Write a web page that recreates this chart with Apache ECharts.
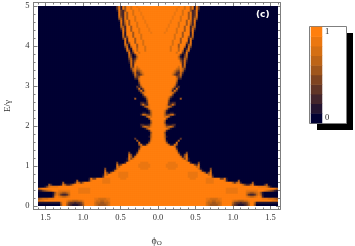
<!DOCTYPE html>
<html><head><meta charset="utf-8">
<style>html,body{margin:0;padding:0;background:#fff}#c{width:355px;height:246px}</style>
<script src="https://cdn.jsdelivr.net/npm/echarts@6/dist/echarts.min.js"></script></head>
<body><div id="c"></div>
<script>
// Half-plane intensity rows (top row E=5 → bottom row E=0), centre φ=0 outward.
// Tokens: level or level*count, level 0-9 (fraction level/9). Missing trailing cells are 0.
const heatRows = [
"9*10 8 9*2 7 9*2 5 8 1 8 3","9*9 8 9*3 7 9*2 5 8 1 8 3","9*9 8 9*2 7 9*3 5 2 3 8 1","9*8 8 9*3 7 9*2 5 8 2 3 8",
"9*8 8 9*3 7 9*2 5 8 2 3 8","9*7 8 9*3 7 9*3 5 8 2 4 7","9*7 8 9*3 7 9*3 5 8 2 6 5","9*6 8 9*4 7 9*2 5 9 7 2 8 1",
"9*6 8 9*3 7 9*3 5 9 6 2 8","9*5 8 9*4 7 9*3 5 9 5 2 7","9*5 8 9*4 7 9*2 5 9 9 2 5 6","9*4 8 9*4 7 9*3 5 9 9 2 7 3",
"9*4 8 9*4 7 9*3 5 9 9 2 8 1","9*3 8 9*5 7 9*2 5 9*3 1 8","9*8 7 9*3 5 9*3 1 7","9*8 7 9*3 5 9 9 5 2 6",
"9*8 7 9*2 5 9*3 2 7 3","9*7 7 9*3 5 9*3 1 8","9*7 7 9*3 5 9 9 5 1 8","9*7 7 9*2 5 9*3 1 5 7",
"9*6 7 9*3 5 9 9 6 0 7 4","9*6 7 9*3 6 9 9 1 2 8 1","9*6 7 9*3 6 9 6 0 5 7","9*9 7 9*2 3 1 8 1",
"9*10 8 3 0 3 7","9*10 6 1 0 4 6","9*10 7 3 1 6 4","9*11 5 2 7 2",
"9*11 7 2 7 1","9*12 2 7","9*10 7 9 3 6","9*9 7 6 8 6 3",
"9*8 7 5 4 8 6 1","9*7 8 6 3 2 7 3","9*7 7 4 2 3 7 1","9*9 5 3 5",
"9*9 7 2 2","9*9 6","9*9 4","9*8 8 2",
"9*8 5 1 3","9*7 5 1 7 1","9*6 8 2 7 3","9*6 8 7 3",
"9*7 4","9*5 8 4 1","9*5 6 1 0*4 5","9*5 4",
"9*5 3 1 2 2","9*4 8 2 3 7 3","9*4 8 7 5 1","9*4 7 2",
"9*3 7 2","9*3 6 1 0 1 1","9*3 6 3 4 6 7 2","9*3 7 8 6 1",
"9*4 4","9*3 6","9*3 5","9*3 7 2 1 1 2 2",
"9*3 8 5 6 7 5 1","9*4 8 5 1","9*3 8 2","9*3 5",
"9*3 6","9*3 6 1","9*3 7 0*7 3","9*3 8 1 0*5 5",
"9*4 5 0*4 7","9*5 6 1 1 7 5","9*8 7 1","9*9 3",
"9*9 7","9*10 3 0*3 4","9*10 8 1 0 4 7","9*11 7 1 5 8",
"9*12 7 4 8 1","9*14 7 1","9*5 8*4 9*7 2 0*3 4","9*4 8*6 9*8 4 2 7",
"9*4 8*6 9*9 6 8","9*5 8*4 9*11 7 1 0*4 4","9*21 7 1 0*3 6","9*15 8*5 9*3 6 1 4 8",
"9*15 8*5 9*5 6 8 1","9*15 8*5 9*7 3","9*16 8*3 9*5 8*4 9*3 4 4 8 1","9*24 8*4 9*5 8 2 0*5 5",
"9*24 8*4 9*9 6 3 6 8 2 0*5 5","9*42 7 4 2 2 5 8 1 0*4 2 5","9*50 8*4 7 4 1","9*34 8*6 9*17 9 8 6",
"9*34 8*6 9*4 8*6 9*2 9 8 7 6 5 4 2 1","9*34 8*6 9*4 7 6 5 5 6 7 8 5 1 0*7","9*44 6 3 2 2 3 6 8 6 1 0*7","9*44 8 7 6 6 7 8 9 8 2 0*7",
"9*24 8 8 7 7 7 7 8 8 9*20 8 8 8 7 7 7 6 5","9*24 8 7 7 6 6 7 7 8 9*5 8 7 7 6 6 6 7 7 8 9*4 9*7 8 8 7",
"9*24 7 6 6 5 5 6 6 7 9*5 6 4 3 3 2 3 3 4 6 9*2 6 1*11","9*24 7 6 5 5 5 5 6 7 9*5 5 3 2 1 1 1 2 3 5 9*2 5 0*11"
];
const halfColumns = 60;
const xTickMajor = [-1.5,-1,-0.5,0,0.5,1,1.5];
const xTickMinor = [-1.6,-1.4,-1.3,-1.2,-1.1,-0.9,-0.8,-0.7,-0.6,-0.4,-0.3,-0.2,-0.1,0.1,0.2,0.3,0.4,0.6,0.7,0.8,0.9,1.1,1.2,1.3,1.4,1.6];
const yTickMajor = [0,1,2,3,4,5];
const yTickMinor = [0.2,0.4,0.6,0.8,1.2,1.4,1.6,1.8,2.2,2.4,2.6,2.8,3.2,3.4,3.6,3.8,4.2,4.4,4.6,4.8];
const colorStops = ['#000033','#2d1a30','#552e2a','#7a4222','#a5581b','#c96a15','#e57511','#ff7f0e'];
const barLevels = [0,1,2,3,4,5,6,7,8,9];
const barLabels = ['0','','','','','','','','','1'];

function decode(s){
  const out=[];
  s.split(' ').forEach(t=>{const p=t.split('*');const n=p[1]?+p[1]:1;for(let i=0;i<n;i++)out.push(+p[0]);});
  while(out.length<halfColumns)out.push(0);
  return out;
}
const cells=[];
heatRows.forEach((s,r)=>{
  const v=decode(s);
  for(let k=0;k<halfColumns;k++){
    cells.push([halfColumns-1-k,r,v[k]/9]);
    cells.push([halfColumns+k,r,v[k]/9]);
  }
});
const xCats=[];for(let i=0;i<2*halfColumns;i++)xCats.push(i);
const yCats=heatRows.map((_,i)=>i);

const frame={left:33.5,top:2.5,width:246.5,height:207,outerBoundsMode:'none'};
const xR=[-1.66,1.6267], yR=[-0.0875,5.0875];
const serif='"Liberation Serif","DejaVu Serif",serif';
const gray='#7f7f7f';
function xA(pos,vals,len,gi,labels,line){
  return {type:'value',gridIndex:gi,position:pos,min:xR[0],max:xR[1],
    axisLine:{show:line,onZero:false,lineStyle:{color:gray,width:1}},
    axisTick:{show:true,inside:true,length:len,customValues:vals,lineStyle:{color:gray,width:1}},
    splitLine:{show:false},
    axisLabel:labels?{show:true,customValues:vals,margin:4,fontFamily:serif,fontSize:8.5,color:'#333',formatter:v=>Math.abs(v).toFixed(1)}:{show:false},
    ...(labels?{name:'{a|ϕ}{b|O}',nameLocation:'middle',nameGap:26,nameTextStyle:{rich:{a:{fontFamily:serif,fontSize:10,color:'#333'},b:{fontFamily:serif,fontSize:7,color:'#333',verticalAlign:'bottom',padding:[4,0,0,0]}}}}:{})};
}
function yA(pos,vals,len,gi,labels,line){
  return {type:'value',gridIndex:gi,position:pos,min:yR[0],max:yR[1],
    axisLine:{show:line,onZero:false,lineStyle:{color:gray,width:1}},
    axisTick:{show:true,inside:true,length:len,customValues:vals,lineStyle:{color:gray,width:1}},
    splitLine:{show:false},
    axisLabel:labels?{show:true,customValues:vals,margin:4,fontFamily:serif,fontSize:8.5,color:'#333',formatter:v=>String(v)}:{show:false},
    ...(labels?{name:'E/γ',nameLocation:'middle',nameGap:21,nameTextStyle:{fontFamily:serif,fontSize:9,color:'#333'}}:{})};
}
const chart=echarts.init(document.getElementById('c'),null,{renderer:'canvas'});
chart.setOption({
  animation:false,backgroundColor:'#fff',
  grid:[
    {left:38,top:6,width:240,height:200,outerBoundsMode:'none'},
    {...frame},
    {...frame},
    {left:311,top:27,width:11,height:96,outerBoundsMode:'none'}
  ],
  visualMap:{show:false,type:'continuous',min:0,max:1,dimension:2,seriesIndex:[0,1],inRange:{color:colorStops}},
  xAxis:[
    {type:'category',gridIndex:0,data:xCats,show:false},
    xA('bottom',xTickMajor,4,1,true,true),
    xA('top',xTickMajor,4,1,false,true),
    xA('bottom',xTickMinor,2,2,false,false),
    xA('top',xTickMinor,2,2,false,false),
    {type:'category',gridIndex:3,data:['c'],show:false}
  ],
  yAxis:[
    {type:'category',gridIndex:0,data:yCats,inverse:true,show:false},
    yA('left',yTickMajor,4,1,true,true),
    yA('right',yTickMajor,4,1,false,true),
    yA('left',yTickMinor,2,2,false,false),
    yA('right',yTickMinor,2,2,false,false),
    {type:'category',gridIndex:3,position:'right',data:barLevels,axisLine:{show:false},axisTick:{show:false},
     axisLabel:{show:true,interval:0,margin:3,fontFamily:serif,fontSize:8.5,color:'#222',formatter:(v,i)=>barLabels[i]}}
  ],
  series:[
    {type:'heatmap',zlevel:1,xAxisIndex:0,yAxisIndex:0,data:cells,progressive:0,silent:true},
    {type:'heatmap',xAxisIndex:5,yAxisIndex:5,data:barLevels.map((l,i)=>[0,i,l/9]),progressive:0,silent:true}
  ],
  graphic:[
    {type:'rect',z:-5,shape:{x:317,y:33,width:36,height:97},style:{fill:'#000'}},
    {type:'rect',z:-4,shape:{x:309.5,y:26.5,width:37,height:97},style:{fill:'#fff',stroke:gray,lineWidth:1}},
    {type:'text',zlevel:2,x:256,y:10,style:{text:'(c)',fill:'#fff',font:'bold 9px "DejaVu Sans",sans-serif'}}
  ]
});
// Soften only the field layer, as in the reference's smoothly resampled density plot.
function soften(){
  const layer=document.querySelector('#c canvas[data-zr-dom-id="zr_1"]');
  if(layer){layer.style.filter='blur(0.7px)';layer.style.clipPath='inset(6px 77px 40px 38px)';}
}
soften();
chart.on('finished',soften);
</script></body></html>
